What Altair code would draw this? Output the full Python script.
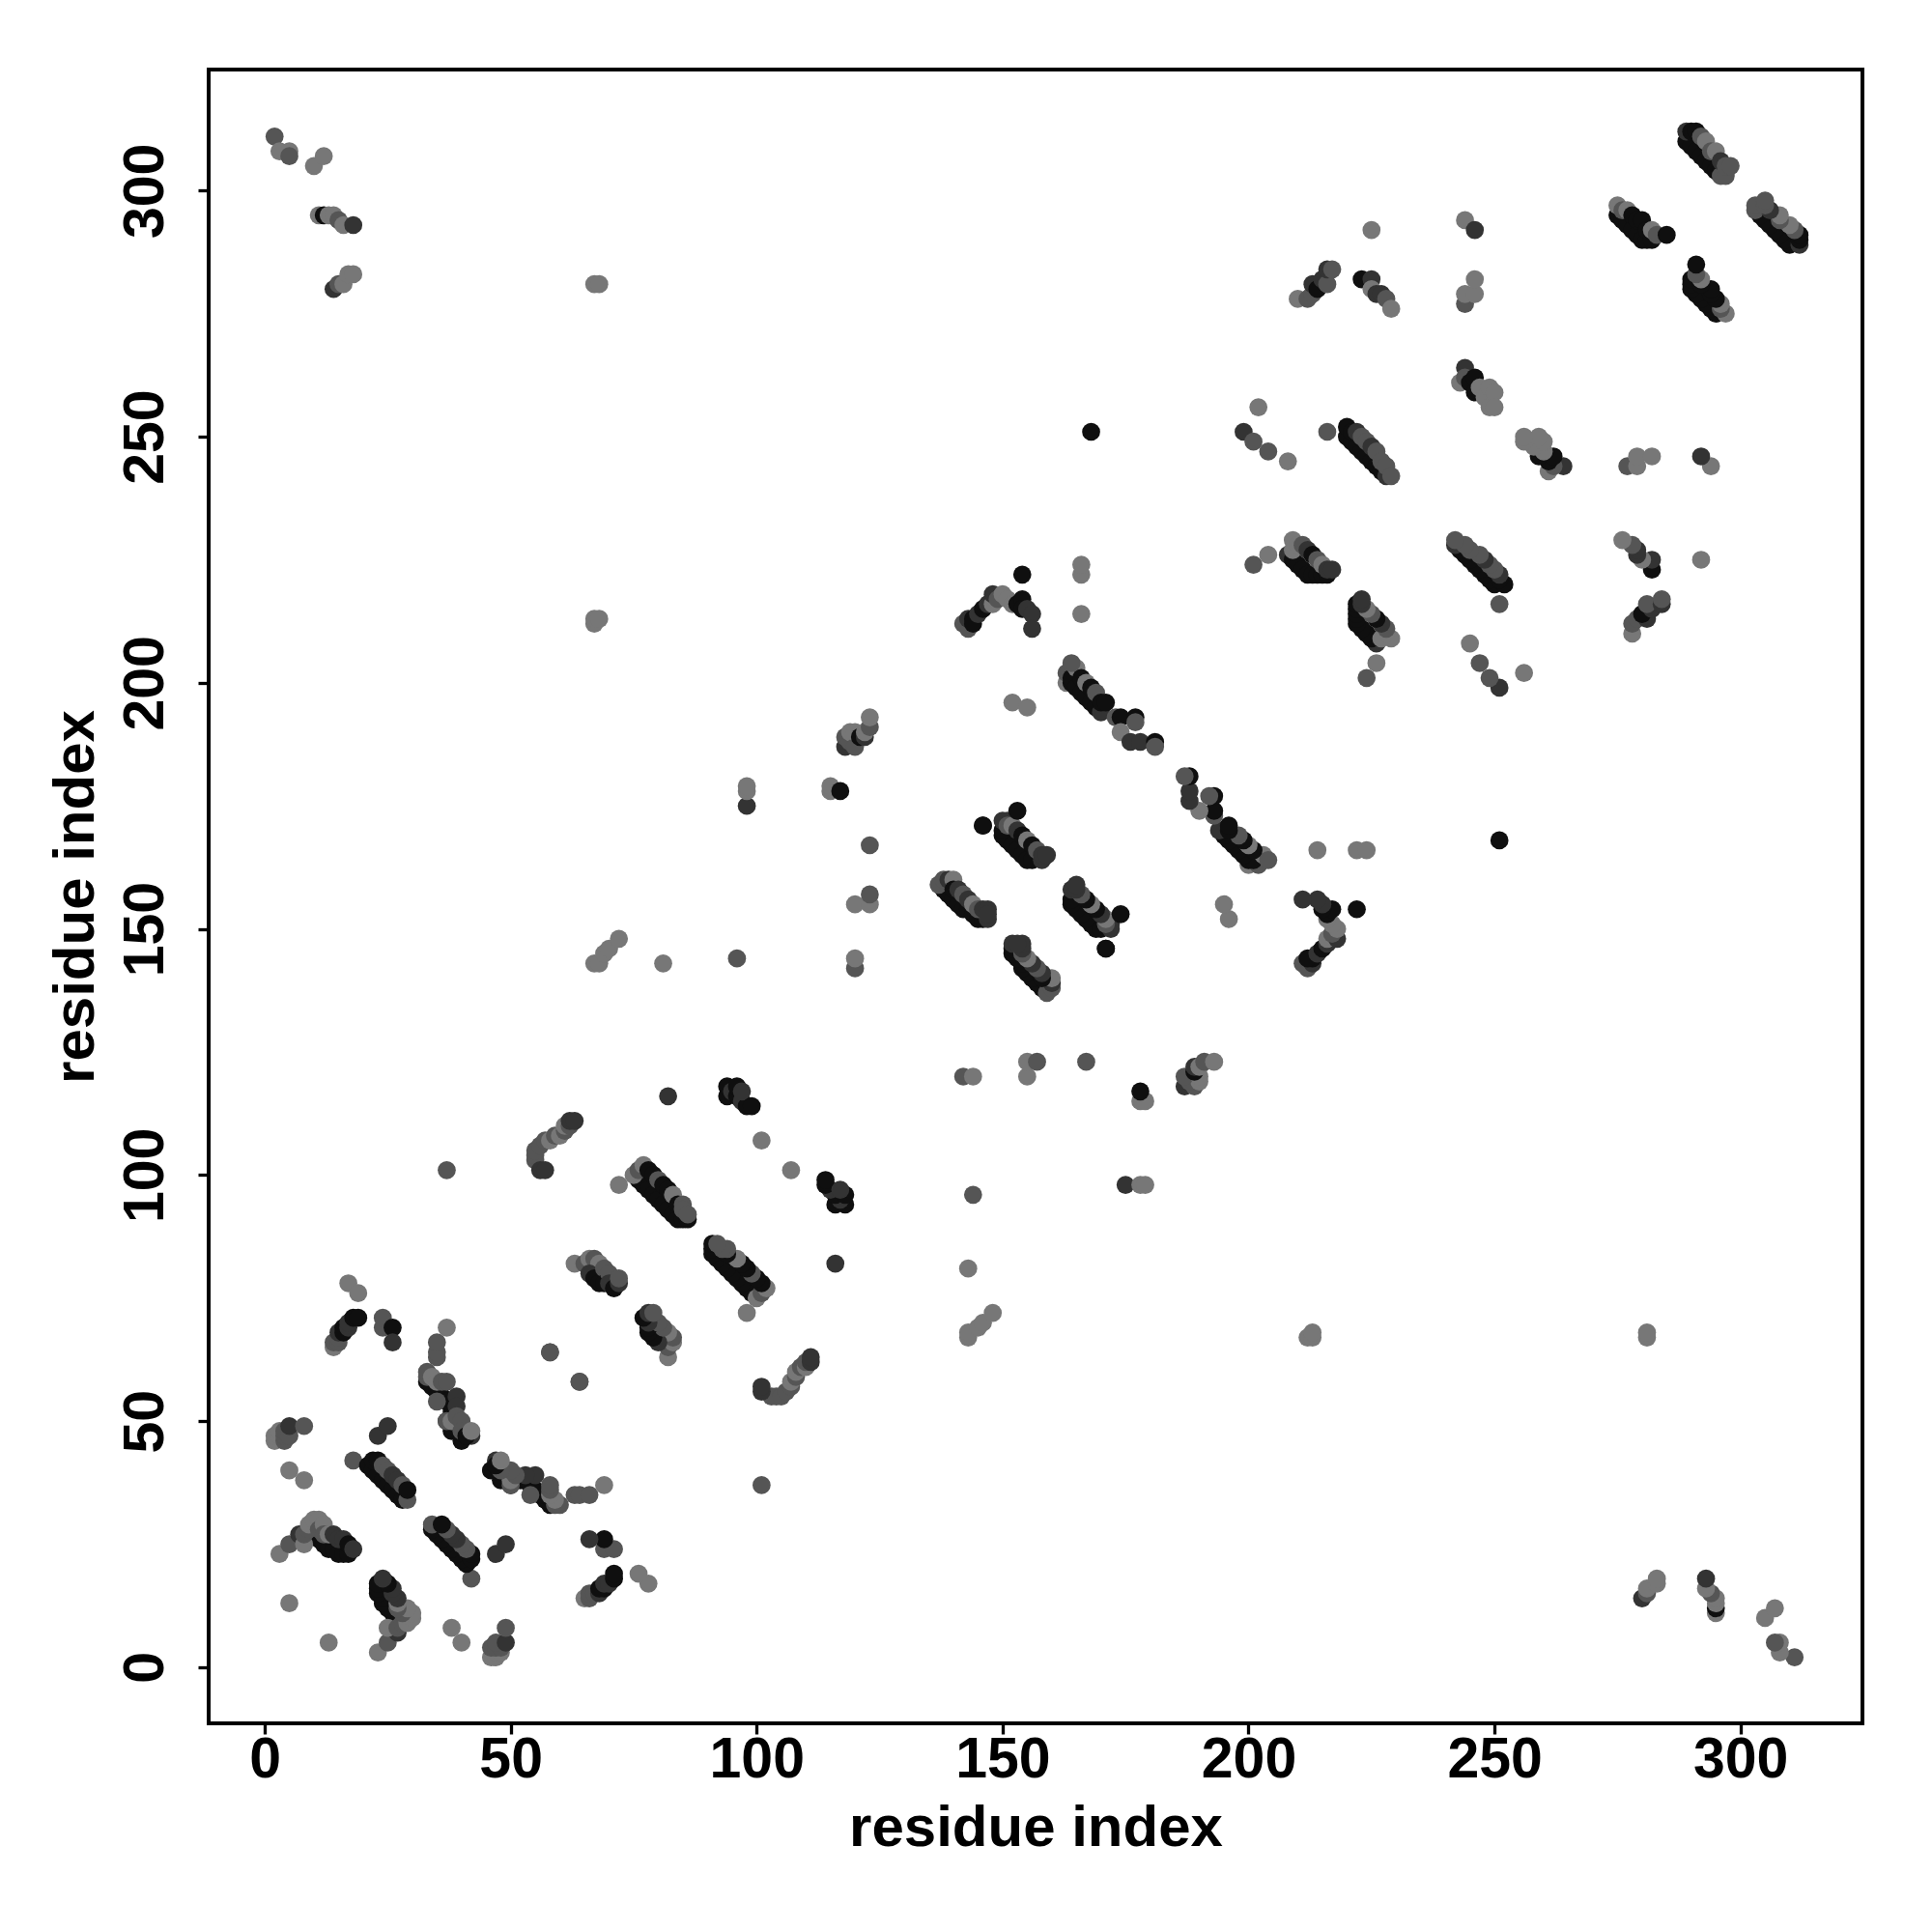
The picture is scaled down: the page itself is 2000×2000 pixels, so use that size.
import altair as alt
import pandas as pd

L, M, D, K = 119, 85, 51, 15

corner_a = [(2,46,L),(2,47,L),(3,47,L),(3,48,L),(4,46,M),(4,47,M),(4,48,M),(5,47,M),(5,49,D),(8,49,M),(5,40,L),(8,38,L),(5,13,L),(3,23,L),(5,25,M)]
strand_a = [(10,27,K),(11,26,K),(12,25,K),(13,24,K),(14,24,K),(15,23,K),(16,23,K),(17,23,K),(7,27,D),(8,25,L),(8,27,M),(9,28,M),(9,29,L),(10,30,L),(11,30,L),(11,28,M),(12,29,L),(12,27,M),(13,27,L),(14,27,D),(15,26,D),(16,26,D),(17,25,K),(18,24,D),(18,42,M),(23,47,D),(25,49,D)]
strand_b = [(21,41,K),(22,40,K),(23,39,K),(24,38,K),(25,37,K),(26,36,K),(27,35,K),(28,34,K),(29,34,M),(22,42,K),(23,42,K),(24,41,M),(25,40,M),(26,39,D),(27,38,D),(28,37,M),(29,36,K)]
strand_c = [(33,58,K),(34,57,K),(35,56,K),(36,55,K),(37,54,K),(38,52,K),(37,50,K),(38,48,K),(40,46,K),(41,47,K),(33,59,M),(33,60,M),(35,63,M),(35,64,M),(35,66,M),(37,69,L),(34,59,L),(35,58,L),(36,58,M),(37,58,M),(35,54,M),(39,55,D),(39,53,D),(37,50,M),(38,50,L),(39,51,M),(40,50,M),(40,48,M),(42,47,D),(41,47,K),(42,48,L)]
arc_d = [(14,65,L),(14,66,M),(15,66,M),(15,67,M),(15,68,D),(16,69,K),(16,68,K),(17,69,D),(17,70,D),(18,71,K),(19,71,K),(17,78,L),(19,76,L),(24,69,M),(24,71,M),(26,69,K),(26,66,D)]
strand_e = [(55,103,M),(55,104,M),(55,105,M),(56,101,D),(57,101,D),(56,106,M),(57,107,M),(58,107,L),(59,108,M),(60,108,L),(61,109,M),(61,110,L),(62,110,M),(62,111,D),(63,111,D),(37,101,M)]
strand_f = [(63,82,L),(65,82,M),(66,83,L),(67,83,M),(68,82,L),(66,80,D),(67,79,K),(68,78,K),(69,81,M),(69,78,K),(70,80,M),(70,78,D),(71,77,K),(72,78,D),(72,79,M),(58,64,M),(64,58,M)]
strand_g = [(76,99,K),(77,98,K),(78,97,K),(79,96,K),(80,95,K),(81,94,K),(82,93,K),(83,92,K),(84,91,K),(85,91,K),(86,91,K),(72,98,L),(75,100,L),(76,101,M),(77,102,L),(78,101,K),(79,100,K),(80,99,M),(81,98,K),(82,97,K),(83,96,L),(84,94,K),(85,94,M),(85,93,M),(86,92,M)]
strand_h = [(94,116,K),(94,118,K),(95,117,D),(96,116,K),(96,118,K),(97,115,D),(98,114,K),(97,117,D),(99,114,K)]
singles_a = [(81,143,L),(82,116,D),(67,143,L),(68,143,L),(69,145,L),(70,146,L),(72,148,L),(96,144,M),(98,175,D),(98,178,L),(98,179,L),(101,107,L),(67,212,L),(67,213,L),(68,213,L),(67,281,L),(68,281,L)]
arc_i = [(115,178,L),(115,179,L),(117,178,K),(118,187,D),(118,189,M),(119,188,M),(119,190,L),(120,187,M),(120,190,L),(121,189,K),(122,189,D),(122,190,L),(123,191,M),(123,193,L),(120,142,M),(120,144,L),(120,155,L),(123,155,L),(123,157,M),(123,167,M)]
strand_j = [(138,158,K),(139,157,K),(140,156,K),(141,155,K),(142,154,K),(143,154,K),(144,153,K),(145,152,K),(146,152,K),(147,152,D),(137,159,M),(138,160,M),(139,160,D),(140,160,L),(140,158,K),(141,158,D),(142,157,M),(143,156,D),(144,155,L),(145,154,M),(146,154,D),(147,154,D),(147,153,D),(146,171,K),(171,146,K)]
strand_k = [(150,169,K),(151,168,K),(152,167,K),(153,166,K),(154,165,K),(155,164,K),(156,164,K),(158,164,D),(150,170,K),(151,172,D),(150,172,D),(151,171,M),(152,171,L),(153,170,D),(153,174,K),(154,169,K),(155,168,L),(156,167,K),(157,166,M),(158,165,D),(159,165,D),(152,196,L),(155,195,L),(154,222,K)]
arc_l = [(142,212,M),(143,211,M),(143,213,D),(144,213,K),(144,212,K),(145,214,D),(146,215,K),(147,216,D),(148,216,L),(148,218,D),(149,217,M),(150,218,L),(151,217,L),(152,216,L),(153,216,K),(154,217,K),(154,215,K),(155,215,D),(156,214,D),(156,211,D),(166,214,L),(166,222,L),(166,224,L),(168,251,K)]
strand_m = [(163,200,L),(163,202,M),(164,200,K),(164,201,K),(165,199,K),(165,203,L),(164,204,M),(166,198,K),(166,201,K),(167,197,K),(167,200,L),(168,196,K),(168,199,K),(169,195,K),(169,198,M),(170,194,D),(170,196,K),(171,196,K),(173,193,M),(174,193,K),(174,190,L),(176,188,D),(177,193,K),(177,192,M),(178,188,D),(181,188,K),(181,187,M)]
singles_b = [(201,224,M),(204,226,L),(199,251,D),(201,249,M),(204,247,M),(208,245,L),(202,256,L),(216,251,M)]
strand_n = [(208,226,D),(209,225,K),(210,224,K),(211,223,K),(212,222,K),(213,222,K),(214,222,K),(215,222,K),(216,222,K),(209,227,L),(209,229,L),(210,228,L),(211,228,M),(212,227,D),(213,226,K),(214,225,M),(215,224,L),(216,223,D),(217,223,D)]
strand_o = [(220,250,K),(221,249,K),(222,248,K),(223,247,K),(224,246,K),(225,245,K),(226,244,K),(227,243,K),(228,242,D),(220,252,K),(221,251,K),(222,251,D),(223,250,M),(224,249,M),(225,248,D),(226,247,M),(227,245,M),(228,244,M),(229,242,M)]
arc_p = [(210,278,L),(212,278,M),(213,279,M),(213,281,D),(214,280,K),(215,282,D),(216,281,M),(216,284,D),(217,284,M),(223,282,K),(225,282,D),(225,280,L),(226,279,D),(227,279,D),(228,278,M),(229,276,L),(225,292,L)]
strand_q = [(243,261,L),(244,264,D),(244,262,M),(245,261,K),(246,262,K),(246,259,K),(247,260,L),(248,258,L),(249,260,L),(249,256,L),(250,259,L),(250,256,L)]
singles_c = [(244,277,M),(244,279,L),(246,279,L),(246,282,L),(244,294,L),(246,292,D)]
strand_r = [(275,295,K),(276,294,K),(277,293,K),(278,292,K),(279,291,K),(280,290,K),(281,290,K),(282,290,K),(275,297,L),(276,296,M),(277,296,L),(278,295,K),(279,294,K),(280,294,K),(281,292,K),(282,292,L),(283,291,M),(285,291,K)]
strand_s = [(289,310,K),(290,309,K),(291,308,K),(292,307,K),(293,306,K),(294,305,K),(295,304,K),(296,303,M),(297,303,M),(289,312,D),(290,312,K),(291,312,K),(292,311,M),(293,310,L),(294,308,M),(295,308,L),(296,306,D),(297,305,M),(298,305,M)]
corner_t = [(2,311,M),(3,308,L),(5,308,L),(5,307,M),(10,305,L),(12,307,L),(11,295,L),(12,295,K),(13,295,L),(14,295,L),(15,294,M),(16,293,L),(18,293,D),(14,280,D),(15,281,M),(16,281,L),(17,283,L),(18,283,L)]

blocks = [corner_a, strand_a, strand_b, strand_c, arc_d, strand_e, strand_f, strand_g, strand_h,
          singles_a, arc_i, strand_j, strand_k, arc_l, strand_m, singles_b, strand_n, strand_o,
          arc_p, strand_q, singles_c, strand_r, strand_s, corner_t]

rows = []
for block in blocks:
    for a, b, g in block:
        rows.append((a, b, g))
        rows.append((b, a, g))

df = pd.DataFrame(rows, columns=["x", "y", "g"])
df["color"] = ["#%02x%02x%02x" % (g, g, g) for g in df["g"]]

tick_values = [0, 50, 100, 150, 200, 250, 300]
font = "Liberation Sans"

chart = (
    alt.Chart(df)
    .mark_circle(size=350, opacity=1)
    .encode(
        x=alt.X("x:Q", scale=alt.Scale(domain=[-11.4, 324.8], nice=False, zero=False),
                axis=alt.Axis(values=tick_values, title="residue index", grid=False, labelFont=font,
                              titleFont=font, labelFontSize=59, titleFontSize=60, labelFontWeight="bold",
                              titleFontWeight="bold", tickSize=11, tickWidth=3.3, tickColor="black",
                              domain=False, labelColor="black", titleColor="black", labelPadding=-3,
                              titlePadding=12, labelFlush=False, labelOverlap=False)),
        y=alt.Y("y:Q", scale=alt.Scale(domain=[-11.4, 324.6], nice=False, zero=False),
                axis=alt.Axis(values=tick_values, title="residue index", grid=False, labelFont=font,
                              titleFont=font, labelFontSize=59, titleFontSize=60, labelFontWeight="bold",
                              titleFontWeight="bold", tickSize=11, tickWidth=3.3, tickColor="black",
                              domain=False, labelColor="black", titleColor="black", labelAngle=270,
                              labelAlign="center", labelBaseline="bottom", labelPadding=25,
                              titlePadding=12, labelOverlap=False)),
        color=alt.Color("color:N", scale=None),
    )
    .properties(width=1712, height=1712,
                autosize=alt.AutoSizeParams(type="none"),
                padding={"left": 208, "top": 64, "right": 60, "bottom": 200})
    .configure_view(stroke="black", strokeWidth=4)
)

chart.save("out.html", embed_options={"renderer": "svg", "actions": False})
